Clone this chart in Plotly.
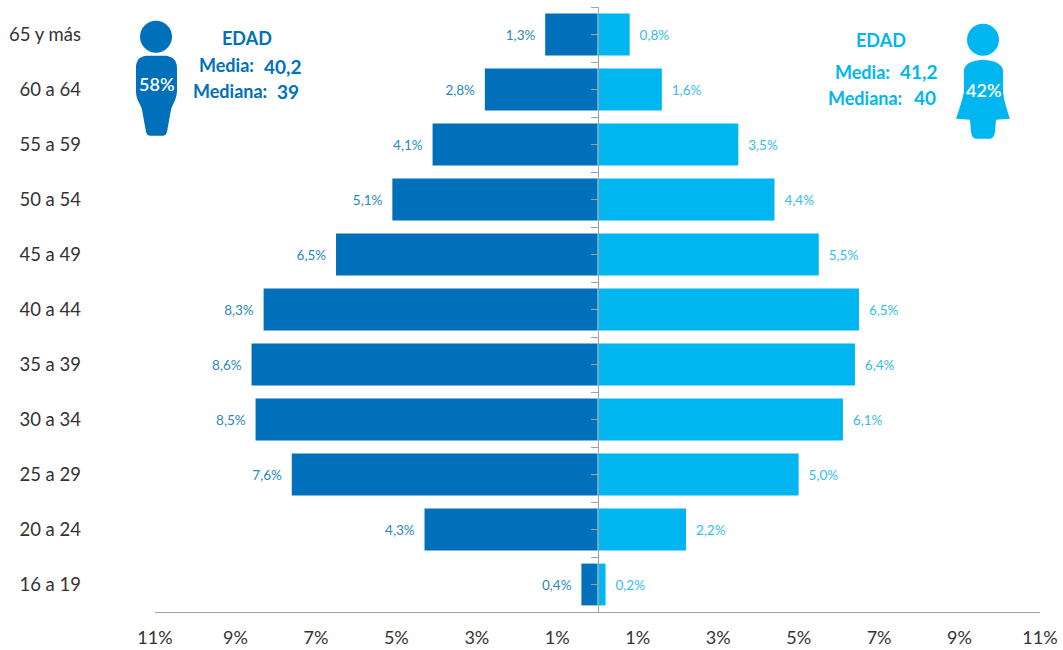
import plotly.graph_objects as go

ages = ["16 a 19", "20 a 24", "25 a 29", "30 a 34", "35 a 39", "40 a 44", "45 a 49", "50 a 54", "55 a 59", "60 a 64", "65 y más"]
men = [0.4, 4.3, 7.6, 8.5, 8.6, 8.3, 6.5, 5.1, 4.1, 2.8, 1.3]
women = [0.2, 2.2, 5.0, 6.1, 6.4, 6.5, 5.5, 4.4, 3.5, 1.6, 0.8]
x_ticks = [-11, -9, -7, -5, -3, -1, 1, 3, 5, 7, 9, 11]
x_labels = ["11%", "9%", "7%", "5%", "3%", "1%", "1%", "3%", "5%", "7%", "9%", "11%"]
DARK = "#0070BA"
LIGHT = "#00B6F0"
FONT = "Lato"
W, H = 1063, 650
L, R, T, B = 155, 23, 7.3, 37.5


def es(v):
    return f"{v:.1f}".replace(".", ",") + "%"


def px(x):
    return (x - L) / (W - L - R)


def py(y):
    return 1 - (y - T) / (H - T - B)


def path(points):
    out = []
    for p in points:
        cmd, coords = p[0], p[1:]
        conv = [f"{px(coords[i]):.5f},{py(coords[i + 1]):.5f}" for i in range(0, len(coords), 2)]
        out.append(cmd + " ".join(conv))
    return " ".join(out) + " Z"


def circle(cx, cy, r):
    k = 0.5523 * r
    return path([
        ("M", cx - r, cy),
        ("C", cx - r, cy - k, cx - k, cy - r, cx, cy - r),
        ("C", cx + k, cy - r, cx + r, cy - k, cx + r, cy),
        ("C", cx + r, cy + k, cx + k, cy + r, cx, cy + r),
        ("C", cx - k, cy + r, cx - r, cy + k, cx - r, cy),
    ])


man_body = path([
    ("M", 136, 68), ("C", 136, 60, 140, 57, 146, 56), ("L", 166, 56), ("C", 172, 57, 177, 60, 177, 68),
    ("L", 177, 92), ("C", 176, 102, 172, 105, 171, 110), ("L", 167, 132), ("C", 166, 136, 164, 136, 161, 136),
    ("L", 152, 136), ("C", 149, 136, 147, 136, 146, 132), ("L", 142, 110), ("C", 141, 105, 136, 100, 136, 92),
])
woman_body = path([
    ("M", 964, 71), ("C", 964, 65, 970, 61, 983, 60), ("C", 996, 61, 1003, 65, 1003, 71),
    ("L", 1003, 92), ("C", 1004, 102, 1007, 110, 1010, 119), ("L", 996, 120), ("L", 995, 132),
    ("C", 994, 138, 992, 139, 989, 139), ("L", 977, 139), ("C", 974, 139, 972, 138, 971, 132),
    ("L", 970, 120), ("L", 956, 119), ("C", 959, 110, 962, 102, 964, 92),
])

fig = go.Figure()
fig.add_trace(go.Bar(
    y=ages, x=[-v for v in men], orientation="h", marker=dict(color=DARK, line=dict(width=0)),
    text=[es(v) + "\u00a0\u00a0" for v in men], textposition="outside", cliponaxis=False,
    textfont=dict(color="#2B87BD", size=13.5, family=FONT), hoverinfo="skip", name="Hombres",
))
fig.add_trace(go.Bar(
    y=ages, x=women, orientation="h", marker=dict(color=LIGHT, line=dict(width=0)),
    text=["\u00a0\u00a0" + es(v) for v in women], textposition="outside", cliponaxis=False,
    textfont=dict(color="#35BDE9", size=13.5, family=FONT), hoverinfo="skip", name="Mujeres",
))
# carries the central axis, whose line and ticks lie over the bars
fig.add_trace(go.Scatter(y=list(range(len(ages))), x=[0] * len(ages), yaxis="y2", mode="markers",
                         marker=dict(opacity=0), hoverinfo="skip", showlegend=False))

notes = [
    (247, 38, "EDAD", DARK, 18), (226, 65, "Media:", DARK, 18), (283, 67, "40,2", DARK, 19),
    (230, 91, "Mediana:", DARK, 18), (288, 92, "39", DARK, 19), (156, 84, "58%", "white", 18),
    (881, 40, "EDAD", LIGHT, 18), (862, 72, "Media:", LIGHT, 18), (919, 72, "41,2", LIGHT, 19),
    (865, 98, "Mediana:", LIGHT, 18), (925, 98, "40", LIGHT, 19), (983, 90, "42%", "white", 18),
]
annotations = [
    dict(x=px(x), y=py(y), xref="paper", yref="paper", text=t, showarrow=False,
         xanchor="center", yanchor="middle", font=dict(color=c, size=s, family=FONT, weight="bold" if c != "white" else 600))
    for x, y, t, c, s in notes
]

fig.update_layout(
    width=W, height=H, margin=dict(l=L, r=R, t=T, b=B, autoexpand=False), autosize=False,
    barmode="overlay", bargap=0.24, showlegend=False,
    paper_bgcolor="white", plot_bgcolor="white",
    font=dict(family=FONT, color="#333333"),
    xaxis=dict(range=[-11, 11], tickvals=x_ticks, ticktext=x_labels, showgrid=False, zeroline=False,
               showline=True, linecolor="#A0A0A0", linewidth=1, ticks="", ticklabelstandoff=9, automargin=False,
               tickfont=dict(size=18, color="#333333", family=FONT)),
    yaxis=dict(type="category", categoryorder="array", categoryarray=ages, range=[-0.5, 10.5],
               showgrid=False, zeroline=False, showline=False, ticks="", ticklabelstandoff=73, automargin=False,
               tickfont=dict(size=18.5, color="#333333", family=FONT)),
    yaxis2=dict(type="linear", overlaying="y", anchor="free", position=0.5, side="left", automargin=False,
                range=[-0.5, 10.5], showgrid=False, zeroline=False, showline=True,
                linecolor="#A0A0A0", linewidth=1, ticks="outside", ticklen=7, tickcolor="#A0A0A0",
                tickvals=[i * 0.5 - 0.5 for i in range(23)], showticklabels=False),
    shapes=[
        dict(type="path", xref="paper", yref="paper", path=circle(156, 37, 16), fillcolor=DARK, line=dict(width=0)),
        dict(type="path", xref="paper", yref="paper", path=man_body, fillcolor=DARK, line=dict(width=0)),
        dict(type="path", xref="paper", yref="paper", path=circle(983, 40, 16), fillcolor=LIGHT, line=dict(width=0)),
        dict(type="path", xref="paper", yref="paper", path=woman_body, fillcolor=LIGHT, line=dict(width=0)),
    ],
    annotations=annotations,
)
fig.write_html("out.html", config={"displayModeBar": False}, post_script="document.body.style.margin='0';")
